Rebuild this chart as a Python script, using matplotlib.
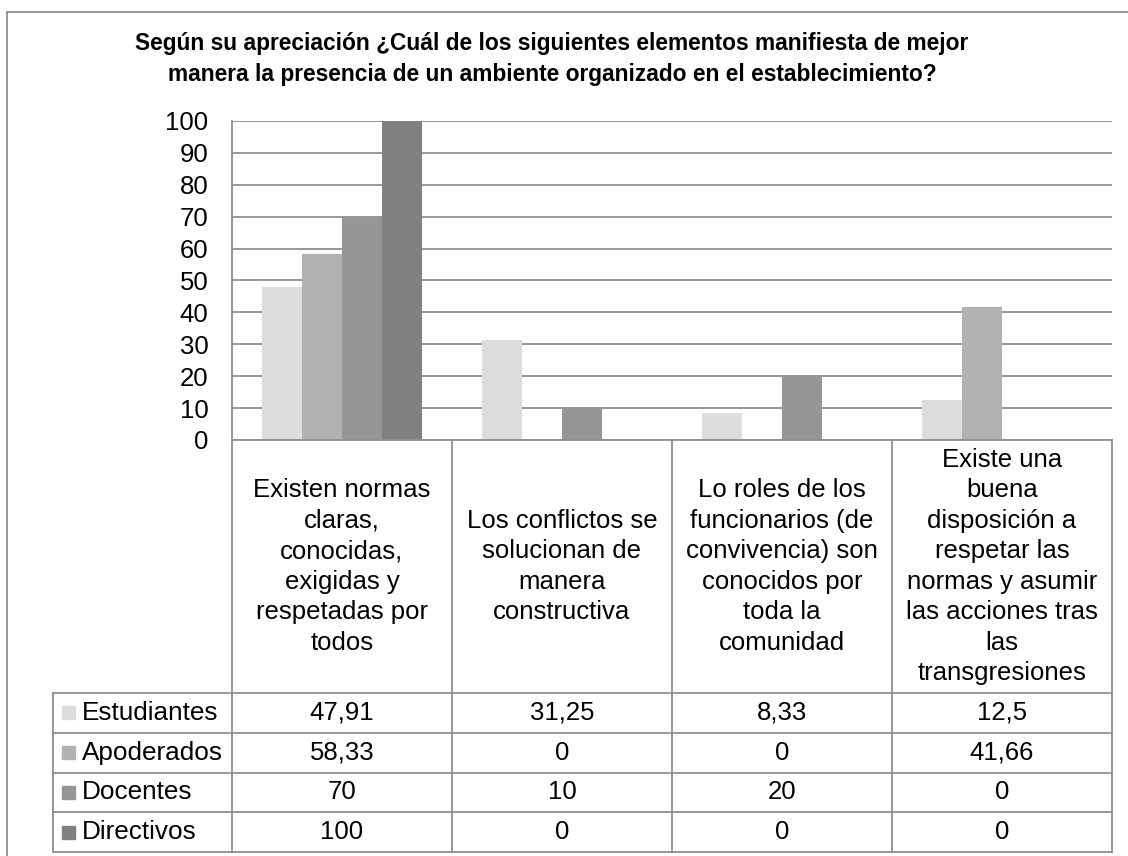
import matplotlib
matplotlib.use("Agg")
import matplotlib.pyplot as plt
from matplotlib.patches import Rectangle

plt.rcParams['font.family'] = ['Liberation Sans', 'DejaVu Sans']

# datos
titulo = ("Según su apreciación ¿Cuál de los siguientes elementos manifiesta de mejor\n"
          "manera la presencia de un ambiente organizado en el establecimiento?")
categorias = [
    "Existen normas\nclaras,\nconocidas,\nexigidas y\nrespetadas por\ntodos",
    "Los conflictos se\nsolucionan de\nmanera\nconstructiva",
    "Lo roles de los\nfuncionarios (de\nconvivencia) son\nconocidos por\ntoda la\ncomunidad",
    "Existe una\nbuena\ndisposición a\nrespetar las\nnormas y asumir\nlas acciones tras\nlas\ntransgresiones",
]
grupos = ["Estudiantes", "Apoderados", "Docentes", "Directivos"]
estudiantes = [47.91, 31.25, 8.33, 12.5]
apoderados = [58.33, 0, 0, 41.66]
docentes = [70, 10, 20, 0]
directivos = [100, 0, 0, 0]
series = [estudiantes, apoderados, docentes, directivos]
colores = ["#DDDDDD", "#B2B2B2", "#969696", "#808080"]
gris = "#8f8f8f"

W, H = 1128, 856
fig = plt.figure(figsize=(W / 100, H / 100), dpi=100)

def caja(l, t, r, b):
    return [l / W, 1 - b / H, (r - l) / W, (b - t) / H]

# marco exterior
fig.patches.append(Rectangle((7 / W, -0.1), 1.5, 1 - 12 / H + 0.1, transform=fig.transFigure,
                             fill=False, edgecolor=gris, lw=1.3))

fig.text(552 / W, 1 - 59 / H, titulo, ha='center', va='center', fontsize=16.4,
         fontweight='bold', linespacing=1.45)

# barras
ax = fig.add_axes(caja(232, 121, 1112, 440))
n = len(series)
ancho = 40 / 220
for j, vals in enumerate(series):
    xs = [i + (j - (n - 1) / 2) * ancho for i in range(len(vals))]
    ax.bar(xs, vals, width=ancho, color=colores[j], zorder=3)
ax.set_xlim(-0.5, 3.5)
ax.set_ylim(0, 100)
ax.set_yticks(range(0, 101, 10))
ax.set_xticks([])
ax.yaxis.grid(True, color=gris, lw=1.3)
ax.set_axisbelow(True)
for s in ['top', 'right', 'bottom']:
    ax.spines[s].set_visible(False)
ax.spines['left'].set_color(gris)
ax.spines['left'].set_linewidth(1.3)
ax.tick_params(axis='y', length=0, pad=17, labelsize=18.5)

# tabla de datos
tab = fig.add_axes(caja(53, 440, 1112, 852))
xmin = -0.5 - 179 / 220
tab.set_xlim(xmin, 3.5)
tab.set_ylim(412, 0)
tab.axis('off')
cab = 253
alto = (412 - cab) / 4
kw = dict(color=gris, lw=1.3, clip_on=False)
for xv in [-0.5, 0.5, 1.5, 2.5, 3.5]:
    tab.plot([xv, xv], [0, 412], **kw)
tab.plot([xmin, xmin], [cab, 412], **kw)
tab.plot([-0.5, 3.5], [0, 0], **kw)
for k in range(5):
    y = cab + k * alto
    tab.plot([xmin, 3.5], [y, y], **kw)

for i, c in enumerate(categorias):
    tab.text(i, cab / 2, c, ha='center', va='center', fontsize=18.5, linespacing=1.34)

for j, (g, vals) in enumerate(zip(grupos, series)):
    yc = cab + (j + 0.5) * alto
    tab.add_patch(Rectangle((xmin + 9 / 220, yc - 6.5), 13 / 220, 13, color=colores[j],
                            clip_on=False))
    tab.text(xmin + 29 / 220, yc, g, ha='left', va='center', fontsize=18.8)
    for i, v in enumerate(vals):
        tab.text(i, yc, f"{v:g}".replace(".", ","), ha='center', va='center', fontsize=18.5)

fig.savefig("out.png", dpi=100)
